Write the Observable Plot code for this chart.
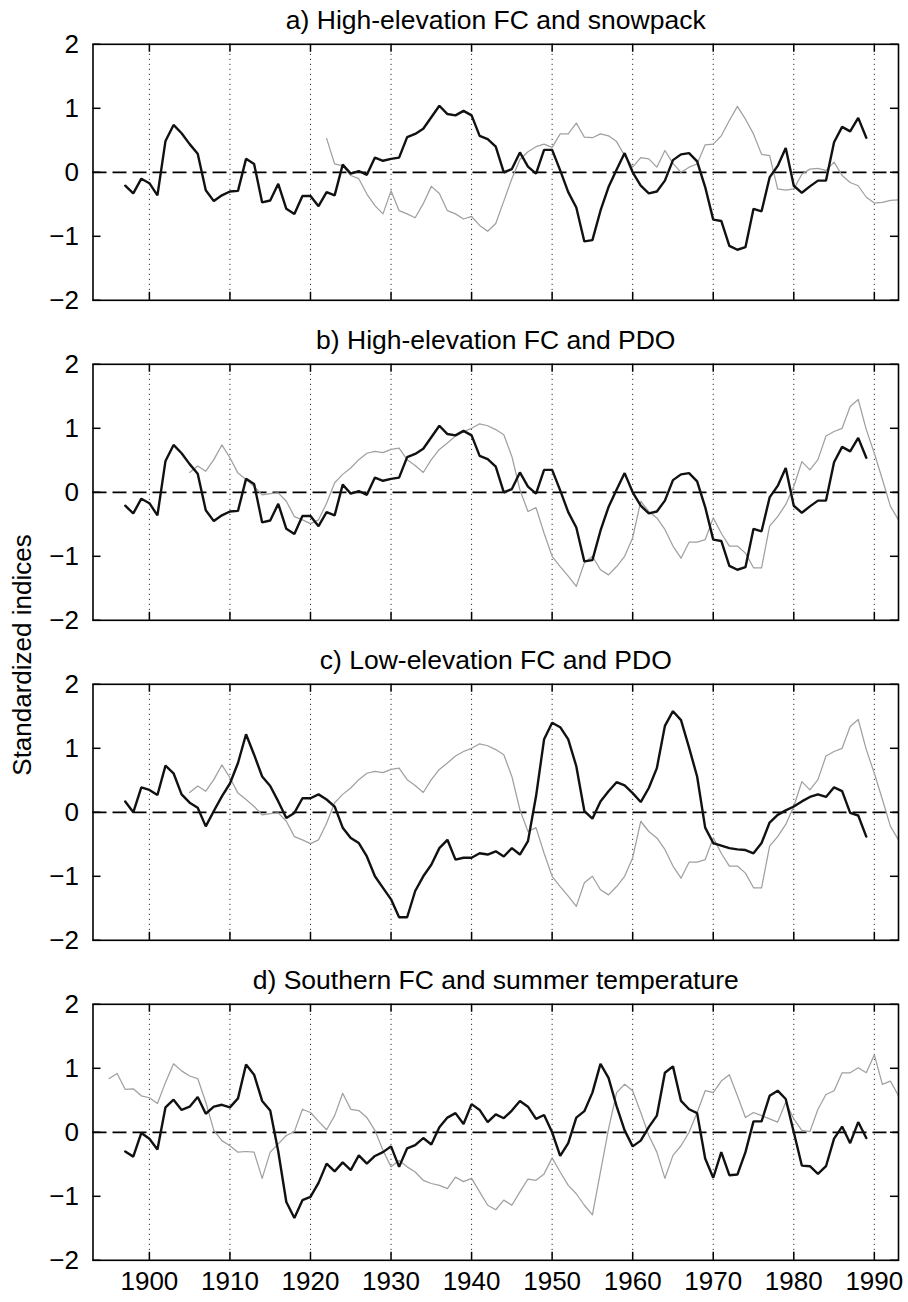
<!DOCTYPE html>
<html>
<head>
<meta charset="utf-8">
<script src="https://cdn.jsdelivr.net/npm/d3@7"></script>
<script src="https://cdn.jsdelivr.net/npm/@observablehq/plot@0.6"></script>
<style>
  body { margin: 0; background: #fff; }
  #chart { position: relative; width: 908px; height: 1302px; font-family: "Liberation Sans", Arial, Helvetica, sans-serif; color: #000; }
  #chart svg { position: absolute; left: 0; }
  #ylabel { position: absolute; left: 22px; top: 655px; transform: translate(-50%, -50%) rotate(-90deg); font-size: 26px; white-space: nowrap; z-index: 2; }
</style>
</head>
<body>
<div id="chart"><div id="ylabel">Standardized indices</div></div>
<script>
// ---------- data ----------
const titles = [
  "a) High-elevation FC and snowpack",
  "b) High-elevation FC and PDO",
  "c) Low-elevation FC and PDO",
  "d) Southern FC and summer temperature"
];
const decades = [1900, 1910, 1920, 1930, 1940, 1950, 1960, 1970, 1980, 1990];
const yTicks = [-2, -1, 0, 1, 2];

// High-elevation FC, 1897-1989
const highFCStart = 1897;
const highFC = [
  -0.21, -0.33, -0.10,                                                   // 1897-1899
  -0.17, -0.36, 0.49, 0.74, 0.61, 0.44, 0.29, -0.28, -0.45, -0.36,       // 1900s
  -0.30, -0.29, 0.21, 0.13, -0.47, -0.44, -0.18, -0.57, -0.65, -0.37,    // 1910s
  -0.37, -0.53, -0.31, -0.36, 0.12, -0.02, 0.02, -0.04, 0.23, 0.18,      // 1920s
  0.21, 0.23, 0.55, 0.60, 0.68, 0.86, 1.04, 0.91, 0.89, 0.96,            // 1930s
  0.89, 0.57, 0.52, 0.40, 0.00, 0.05, 0.31, 0.09, -0.02, 0.35,           // 1940s
  0.35, 0.03, -0.31, -0.55, -1.08, -1.06, -0.60, -0.23, 0.04, 0.30,      // 1950s
  0.00, -0.21, -0.33, -0.30, -0.13, 0.19, 0.28, 0.30, 0.17, -0.23,       // 1960s
  -0.74, -0.76, -1.15, -1.21, -1.17, -0.57, -0.61, -0.08, 0.10, 0.38,    // 1970s
  -0.21, -0.32, -0.22, -0.13, -0.13, 0.47, 0.71, 0.64, 0.85, 0.54        // 1980-1989
];

// Snowpack, 1922-1993
const snowStart = 1922;
const snowpack = [
  0.53, 0.13, 0.10, -0.05, -0.10, -0.34, -0.52, -0.65,                   // 1922-1929
  -0.29, -0.60, -0.65, -0.71, -0.49, -0.22, -0.33, -0.60, -0.65, -0.73,  // 1930s
  -0.69, -0.83, -0.92, -0.80, -0.45, -0.10, 0.20, 0.32, 0.40, 0.44,      // 1940s
  0.39, 0.60, 0.60, 0.77, 0.55, 0.54, 0.60, 0.57, 0.48, 0.26,            // 1950s
  0.08, 0.23, 0.21, 0.08, 0.34, 0.14, 0.00, 0.08, 0.13, 0.43,            // 1960s
  0.44, 0.57, 0.81, 1.03, 0.83, 0.60, 0.28, 0.26, -0.26, -0.28,          // 1970s
  -0.26, -0.03, 0.05, 0.06, 0.03, 0.16, -0.05, -0.16, -0.21, -0.39,      // 1980s
  -0.48, -0.47, -0.44, -0.43                                             // 1990-1993
];

// PDO, 1905-1993
const pdoStart = 1905;
const pdo = [
  0.31, 0.41, 0.33, 0.51, 0.74,                                          // 1905-1909
  0.54, 0.30, 0.20, 0.09, -0.04, -0.02, -0.01, -0.14, -0.38, -0.43,      // 1910s
  -0.49, -0.43, -0.17, 0.15, 0.28, 0.38, 0.51, 0.61, 0.64, 0.62,         // 1920s
  0.67, 0.69, 0.51, 0.42, 0.31, 0.51, 0.67, 0.77, 0.88, 0.95,            // 1930s
  1.00, 1.07, 1.04, 0.98, 0.90, 0.56, 0.04, -0.30, -0.24, -0.64,         // 1940s
  -1.00, -1.16, -1.31, -1.47, -1.10, -1.00, -1.21, -1.29, -1.16, -1.00,  // 1950s
  -0.71, -0.14, -0.30, -0.40, -0.58, -0.84, -1.03, -0.78, -0.78, -0.74,  // 1960s
  -0.40, -0.64, -0.84, -0.84, -0.95, -1.18, -1.18, -0.53, -0.38, -0.19,  // 1970s
  0.09, 0.48, 0.35, 0.51, 0.88, 0.95, 1.00, 1.34, 1.45, 0.98,            // 1980s
  0.61, 0.20, -0.22, -0.43                                               // 1990-1993
];

// Low-elevation FC, 1897-1989
const lowFCStart = 1897;
const lowFC = [
  0.17, 0.00, 0.39,                                                      // 1897-1899
  0.35, 0.27, 0.73, 0.61, 0.28, 0.15, 0.07, -0.22, 0.02, 0.25,           // 1900s
  0.45, 0.77, 1.22, 0.90, 0.56, 0.41, 0.17, -0.09, -0.01, 0.22,          // 1910s
  0.22, 0.28, 0.20, 0.09, -0.24, -0.40, -0.48, -0.69, -1.00, -1.18,      // 1920s
  -1.36, -1.64, -1.64, -1.23, -1.00, -0.82, -0.56, -0.43, -0.74, -0.71,  // 1930s
  -0.71, -0.64, -0.66, -0.61, -0.69, -0.56, -0.66, -0.45, 0.25, 1.14,    // 1940s
  1.40, 1.33, 1.14, 0.72, 0.02, -0.10, 0.17, 0.33, 0.47, 0.42,           // 1950s
  0.30, 0.16, 0.38, 0.69, 1.35, 1.58, 1.44, 1.01, 0.56, -0.24,           // 1960s
  -0.48, -0.52, -0.56, -0.58, -0.59, -0.64, -0.48, -0.16, -0.04, 0.03,   // 1970s
  0.09, 0.17, 0.24, 0.28, 0.24, 0.39, 0.33, -0.01, -0.05, -0.38          // 1980-1989
];

// Southern FC, 1897-1989
const southFCStart = 1897;
const southFC = [
  -0.30, -0.38, -0.01,                                                   // 1897-1899
  -0.10, -0.27, 0.39, 0.51, 0.35, 0.40, 0.55, 0.29, 0.40, 0.43,          // 1900s
  0.39, 0.53, 1.06, 0.90, 0.49, 0.34, -0.30, -1.09, -1.34, -1.06,        // 1910s
  -1.01, -0.79, -0.49, -0.61, -0.47, -0.59, -0.36, -0.49, -0.37, -0.31,  // 1920s
  -0.22, -0.54, -0.25, -0.20, -0.09, -0.19, 0.08, 0.23, 0.30, 0.13,      // 1930s
  0.44, 0.35, 0.16, 0.28, 0.22, 0.34, 0.49, 0.40, 0.21, 0.27,            // 1940s
  0.00, -0.37, -0.17, 0.23, 0.33, 0.62, 1.07, 0.85, 0.41, 0.03,          // 1950s
  -0.22, -0.13, 0.08, 0.26, 0.93, 1.03, 0.49, 0.36, 0.30, -0.41,         // 1960s
  -0.71, -0.31, -0.67, -0.66, -0.31, 0.17, 0.17, 0.57, 0.65, 0.52,       // 1970s
  0.00, -0.52, -0.53, -0.65, -0.53, -0.10, 0.09, -0.17, 0.16, -0.09      // 1980-1989
];

// Summer temperature, 1895-1993
const tempStart = 1895;
const summerTemp = [
  0.84, 0.92, 0.67, 0.68, 0.57,                                          // 1895-1899
  0.54, 0.45, 0.78, 1.07, 0.96, 0.88, 0.84, 0.47, 0.03, -0.13,           // 1900s
  -0.21, -0.31, -0.30, -0.31, -0.72, -0.31, -0.18, -0.05, 0.01, 0.36,    // 1910s
  0.31, 0.17, 0.04, 0.26, 0.61, 0.36, 0.34, 0.23, 0.03, -0.28,           // 1920s
  -0.54, -0.44, -0.54, -0.62, -0.75, -0.80, -0.83, -0.88, -0.70, -0.77,  // 1930s
  -0.72, -0.93, -1.14, -1.21, -1.06, -1.14, -0.93, -0.73, -0.75, -0.65,  // 1940s
  -0.40, -0.62, -0.83, -0.96, -1.14, -1.29, -0.62, 0.05, 0.62, 0.75,     // 1950s
  0.65, 0.31, -0.05, -0.31, -0.72, -0.36, -0.21, 0.00, 0.31, 0.65,       // 1960s
  0.62, 0.80, 0.90, 0.57, 0.23, 0.31, 0.26, 0.21, 0.16, 0.47,            // 1970s
  0.21, 0.03, 0.01, 0.36, 0.59, 0.65, 0.93, 0.93, 1.01, 0.93,            // 1980s
  1.21, 0.75, 0.80, 0.57                                                 // 1990-1993
];

// ---------- helpers ----------
const toRows = (start, values) => values.map((value, i) => ({year: start + i, value}));

const panels = [
  {title: titles[0], fc: toRows(highFCStart, highFC),  other: toRows(snowStart, snowpack)},
  {title: titles[1], fc: toRows(highFCStart, highFC),  other: toRows(pdoStart, pdo)},
  {title: titles[2], fc: toRows(lowFCStart, lowFC),    other: toRows(pdoStart, pdo)},
  {title: titles[3], fc: toRows(southFCStart, southFC), other: toRows(tempStart, summerTemp)}
];

// ---------- layout ----------
const WIDTH = 908, ML = 92.5, MR = 10, MT = 43.8, FH = 256;
const FW = WIDTH - ML - MR;
const TICK = 8;
const fmt = d3.format("d");
const chart = document.getElementById("chart");

panels.forEach((p, i) => {
  const last = i === panels.length - 1;
  const H = last ? 342 : 320;
  const marks = [
    Plot.ruleX(decades, {x: d => d, stroke: "#333", strokeDasharray: "1.2,3.8", strokeWidth: 1}),
    Plot.ruleY([0], {y: d => d, stroke: "#000", strokeDasharray: "14,6", strokeWidth: 1.8}),
    Plot.line(p.other, {x: "year", y: "value", stroke: "#a0a0a0", strokeWidth: 1.25}),
    Plot.line(p.fc, {x: "year", y: "value", stroke: "#111", strokeWidth: 2.4, strokeLinejoin: "miter"}),
    Plot.frame({stroke: "#000", strokeWidth: 1.6}),
    Plot.tickY(yTicks, {y: d => d, insetRight: FW - TICK, strokeWidth: 1.5}),
    Plot.tickY(yTicks, {y: d => d, insetLeft: FW - TICK, strokeWidth: 1.5}),
    Plot.tickX(decades, {x: d => d, insetTop: FH - TICK, strokeWidth: 1.5}),
    Plot.tickX(decades, {x: d => d, insetBottom: FH - TICK, strokeWidth: 1.5}),
    Plot.axisY(yTicks, {tickSize: 0, tickPadding: 14, tickFormat: fmt, label: null}),
    Plot.text([p.title], {text: d => d, frameAnchor: "top", dy: -15, lineAnchor: "bottom", fontSize: 26.5})
  ];
  if (last) marks.push(Plot.axisX(decades, {tickSize: 0, tickPadding: 11, tickFormat: fmt, label: null}));
  const svg = Plot.plot({
    width: WIDTH,
    height: H,
    marginLeft: ML,
    marginRight: MR,
    marginTop: MT,
    marginBottom: H - MT - FH,
    x: {domain: [1893, 1993], axis: last ? undefined : null, label: null},
    y: {domain: [-2, 2], label: null},
    style: {fontSize: "26px", fontFamily: "'Liberation Sans', Arial, Helvetica, sans-serif", background: "transparent", color: "#000", overflow: "visible"},
    marks
  });
  svg.style.top = (i * 320) + "px";
  chart.appendChild(svg);
});
</script>
</body>
</html>
